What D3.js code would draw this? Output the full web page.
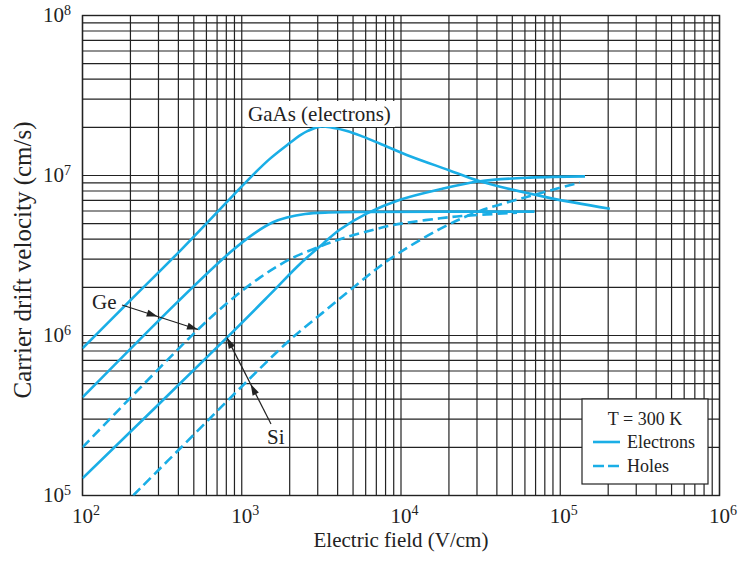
<!DOCTYPE html>
<html>
<head>
<meta charset="utf-8">
<script src="https://cdn.jsdelivr.net/npm/d3@7"></script>
<style>
  html, body { margin: 0; padding: 0; background: #fff; }
  svg { display: block; }
  text { font-family: "Liberation Serif", "Times New Roman", serif; fill: #222; }
</style>
</head>
<body>
<svg id="chart" width="740" height="561"></svg>
<script>
// ---------- data (E in V/cm, v in cm/s) ----------
const gaasElecE = [100, 200, 400, 893, 1178, 1500, 2010, 2320, 2600, 3100, 3700, 4580, 5770, 7400, 11400, 20000, 31300, 82600, 205000];
const gaasElecV = [8.3e5, 1.66e6, 3.3e6, 7.6e6, 1.01e7, 1.27e7, 1.6e7, 1.78e7, 1.9e7, 2.02e7, 1.99e7, 1.9e7, 1.75e7, 1.58e7, 1.32e7, 1.08e7, 9.2e6, 7.3e6, 6.2e6];

const geElecE = [100, 400, 843, 1200, 1570, 1920, 2500, 3500, 6000, 69000];
const geElecV = [4.1e5, 1.64e6, 3.3e6, 4.35e6, 5.1e6, 5.46e6, 5.75e6, 5.87e6, 5.92e6, 5.95e6];

const geHoleE = [100, 531, 843, 1300, 2010, 3100, 4140, 5770, 8500, 11400, 17600, 24000, 53500];
const geHoleV = [2e5, 1.09e6, 1.65e6, 2.3e6, 3.0e6, 3.6e6, 4.0e6, 4.4e6, 4.85e6, 5.1e6, 5.4e6, 5.58e6, 5.85e6];

const siElecE = [100, 807, 1500, 2320, 3240, 4140, 6120, 9860, 17600, 31300, 64600, 143000];
const siElecV = [1.28e5, 9.7e5, 1.8e6, 2.8e6, 3.75e6, 4.6e6, 5.8e6, 7.05e6, 8.2e6, 9.2e6, 9.7e6, 9.87e6];

const siHoleE = [208, 500, 1000, 2010, 3200, 5000, 8500, 17600, 31300, 64600, 133000];
const siHoleV = [1e5, 2.4e5, 4.8e5, 9.4e5, 1.38e6, 1.99e6, 3.0e6, 4.64e6, 6.0e6, 7.44e6, 9.04e6];

const xTickValues = [1e2, 1e3, 1e4, 1e5, 1e6];
const xTickExps = ["2", "3", "4", "5", "6"];
const yTickValues = [1e5, 1e6, 1e7, 1e8];
const yTickExps = ["5", "6", "7", "8"];

const xTitle = "Electric field (V/cm)";
const yTitle = "Carrier drift velocity (cm/s)";
const legendTitle = "T = 300 K";
const legendItems = ["Electrons", "Holes"];

// ---------- setup ----------
const svg = d3.select("#chart");
const x = d3.scaleLog().domain([1e2, 1e6]).range([82.5, 719.5]);
const y = d3.scaleLog().domain([1e5, 1e8]).range([495.5, 15.5]);
const curveColor = "#1aaee6";
const gridColor = "#222";

// grid
const gGrid = svg.append("g");
gGrid.selectAll("line.v").data(x.ticks()).join("line")
  .attr("x1", d => x(d)).attr("x2", d => x(d))
  .attr("y1", y.range()[0]).attr("y2", y.range()[1])
  .attr("stroke", gridColor).attr("stroke-width", 1.2);
gGrid.selectAll("line.h").data(y.ticks()).join("line")
  .attr("y1", d => y(d)).attr("y2", d => y(d))
  .attr("x1", x.range()[0]).attr("x2", x.range()[1])
  .attr("stroke", gridColor).attr("stroke-width", 1.2);
svg.append("rect")
  .attr("x", x.range()[0]).attr("y", y.range()[1])
  .attr("width", x.range()[1] - x.range()[0]).attr("height", y.range()[0] - y.range()[1])
  .attr("fill", "none").attr("stroke", gridColor).attr("stroke-width", 1.4);

// curves
const line = d3.line().x(d => x(d[0])).y(d => y(d[1])).curve(d3.curveCatmullRom.alpha(0.5));
const series = [
  { E: gaasElecE, V: gaasElecV, dash: null },
  { E: geElecE, V: geElecV, dash: null },
  { E: geHoleE, V: geHoleV, dash: "10,5" },
  { E: siElecE, V: siElecV, dash: null },
  { E: siHoleE, V: siHoleV, dash: "10,5" },
];
svg.append("defs").append("clipPath").attr("id", "clip").append("rect")
  .attr("x", x.range()[0]).attr("y", y.range()[1])
  .attr("width", x.range()[1] - x.range()[0]).attr("height", y.range()[0] - y.range()[1]);
const gCurves = svg.append("g").attr("clip-path", "url(#clip)");
series.forEach(s => {
  gCurves.append("path")
    .datum(s.E.map((e, i) => [e, s.V[i]]))
    .attr("d", line)
    .attr("fill", "none")
    .attr("stroke", curveColor)
    .attr("stroke-width", 2.6)
    .attr("stroke-dasharray", s.dash);
});

// helper: measure width
function measure(str, size) {
  const t = svg.append("text").attr("font-size", size).text(str);
  const w = t.node().getComputedTextLength();
  t.remove();
  return w;
}

// x tick labels
const w10 = measure("10", 21);
xTickValues.forEach((v, i) => {
  const t = svg.append("text").attr("x", x(v) - w10 / 2).attr("y", 523).attr("font-size", 21);
  t.append("tspan").text("10");
  t.append("tspan").attr("font-size", 14).attr("dy", -8).text(xTickExps[i]);
});
// y tick labels
yTickValues.forEach((v, i) => {
  const t = svg.append("text").attr("x", 71).attr("y", y(v) + 6.5).attr("font-size", 21)
    .attr("text-anchor", "end");
  t.append("tspan").text("10");
  t.append("tspan").attr("font-size", 14).attr("dy", -7).text(yTickExps[i]);
});

// axis titles
svg.append("text").attr("x", 401).attr("y", 547).attr("text-anchor", "middle")
  .attr("font-size", 21).text(xTitle);
svg.append("text").attr("transform", "translate(31,260) rotate(-90)")
  .attr("text-anchor", "middle").attr("font-size", 25).text(yTitle);

// GaAs label with white background
const gaasLabel = svg.append("g");
gaasLabel.append("rect").attr("x", 245).attr("y", 101).attr("width", 150).attr("height", 26).attr("fill", "#fff");
gaasLabel.append("text").attr("x", 248).attr("y", 121).attr("font-size", 21).text("GaAs (electrons)");

// arrow helper
function arrowHead(tx, ty, dx, dy) {
  const len = Math.hypot(dx, dy), ux = dx / len, uy = dy / len;
  const L = 11, W = 3.5;
  const bx = tx - ux * L, by = ty - uy * L;
  return `M${tx},${ty}L${bx - uy * W},${by + ux * W}L${bx + uy * W},${by - ux * W}Z`;
}
function annotate(x0, y0, x1, y1, tMid) {
  svg.append("line").attr("x1", x0).attr("y1", y0).attr("x2", x1).attr("y2", y1)
    .attr("stroke", "#222").attr("stroke-width", 1.2);
  const dx = x1 - x0, dy = y1 - y0;
  svg.append("path").attr("d", arrowHead(x1, y1, dx, dy)).attr("fill", "#222");
  svg.append("path").attr("d", arrowHead(x0 + dx * tMid, y0 + dy * tMid, dx, dy)).attr("fill", "#222");
}
// Ge
svg.append("text").attr("x", 92).attr("y", 309).attr("font-size", 21).text("Ge");
annotate(122, 305, x(531), y(1.09e6), 0.47);
// Si
svg.append("text").attr("x", 267).attr("y", 444).attr("font-size", 21).text("Si");
annotate(271, 424, x(807), y(9.7e5), 0.46);

// legend
const lg = svg.append("g");
lg.append("rect").attr("x", 582).attr("y", 399).attr("width", 126).attr("height", 85)
  .attr("fill", "#fff").attr("stroke", "#222").attr("stroke-width", 1.2);
lg.append("text").attr("x", 645).attr("y", 425).attr("text-anchor", "middle").attr("font-size", 18).text(legendTitle);
legendItems.forEach((name, i) => {
  const yy = 442 + i * 24;
  lg.append("line").attr("x1", 593).attr("x2", 620).attr("y1", yy).attr("y2", yy)
    .attr("stroke", curveColor).attr("stroke-width", 2.6)
    .attr("stroke-dasharray", i === 1 ? "11,4" : null);
  lg.append("text").attr("x", 627).attr("y", yy + 6).attr("font-size", 18).text(name);
});
</script>
</body>
</html>
